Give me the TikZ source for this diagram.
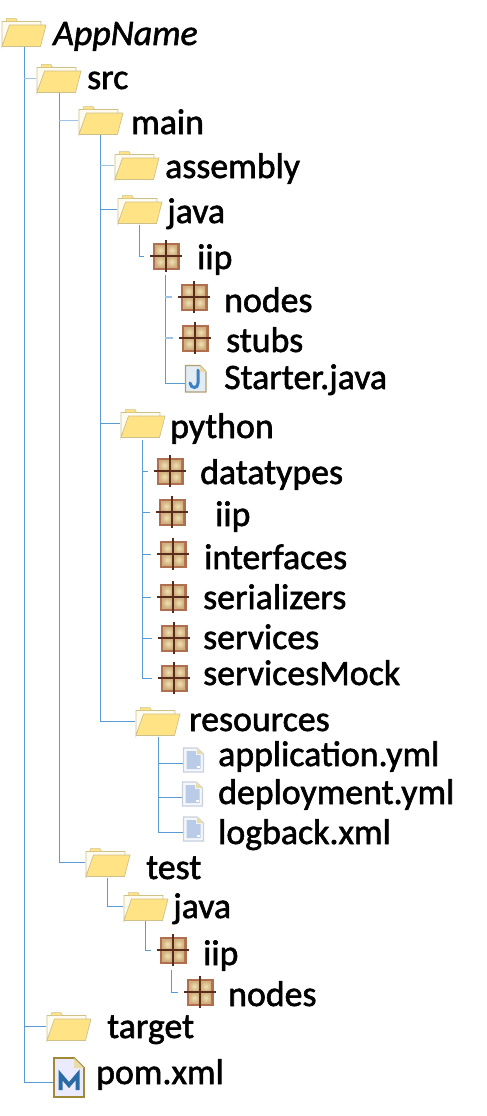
\documentclass[tikz,border=0pt]{standalone}
\usepackage{fontspec}
\setmainfont{Carlito}
\newfontfamily\lblfont[FakeBold=1.6]{Carlito}
\newfontfamily\lblit[FakeBold=1.6]{Carlito Italic}
\definecolor{treeblue}{HTML}{5B9BD5}
\definecolor{treelight}{HTML}{9DC3E6}
\definecolor{foldy}{HTML}{FFE384}
\definecolor{foldedge}{HTML}{CFC08A}
\definecolor{foldback}{HTML}{FFFCEF}
\definecolor{pkgedge}{HTML}{B0704F}
\definecolor{pkgin}{HTML}{F0E2B4}
\definecolor{pkgout}{HTML}{D0AE7E}
\definecolor{pkgcross}{HTML}{5A2C1C}
\definecolor{docpage}{HTML}{B9CBE6}
\definecolor{docedge}{HTML}{C8D0DE}
\definecolor{docfold}{HTML}{EADCA8}
\definecolor{jedge}{HTML}{B0A070}
\definecolor{jblue}{HTML}{3D7FBF}
\definecolor{medge}{HTML}{A08A3A}
\definecolor{mblue}{HTML}{2A6AA5}
\tikzset{
 x=1pt,y=-1pt,
 trunk/.style={treeblue,line width=1pt},
 hl/.style={treeblue,line width=1pt},
 hlight/.style={treelight,line width=1.5pt},
 lbl/.style={inner sep=0pt,anchor=base west,font=\fontsize{35.8}{38}\selectfont\lblfont},
 foldernode/.style={inner sep=0pt,outer sep=0pt,minimum width=45pt,minimum height=29pt,anchor=north west},
 pkgnode/.style={inner sep=0pt,outer sep=0pt,minimum width=44pt,minimum height=34pt,anchor=center},
 docnode/.style={inner sep=0pt,outer sep=3pt,minimum width=22pt,minimum height=26pt,anchor=north west},
}
\newcommand{\folderat}[3]{% name, x, y
 \node[foldernode] (#1) at (#2,#3) {};
 \begin{scope}[shift={(#2,#3)}]
  \fill[foldback,draw=foldedge,line width=.9pt] (1,28.5) -- (1,3.5) -- (40,3.5) -- (40,8) -- (9,8) -- cycle;
  \fill[foldy,draw=foldedge,line width=.5pt] (5,3.5) -- (5.5,.5) -- (15,.5) -- (16.5,3.5) -- cycle;
  \fill[foldy,draw=foldedge,line width=.7pt] (8.5,7) -- (45,7) -- (39.5,28.5) -- (1,28.5) -- cycle;
 \end{scope}}
\newcommand{\pkgat}[3]{% name, cx, cy
 \node[pkgnode] (#1) at (#2,#3) {};
 \begin{scope}[shift={(#2,#3)}]
  \fill[pkgedge] (-13.5,-13.5) rectangle (13.5,13.5);
  \foreach \qx/\qy in {-11/-11,0.5/-11,-11/0.5,0.5/0.5}{
   \shade[inner color=pkgin,outer color=pkgout] (\qx,\qy) rectangle ++(10.5,10.5);}
  \draw[pkgcross,line width=1.2pt] (-16,0) -- (16,0) (0,-16) -- (0,16);
 \end{scope}}
\newcommand{\docat}[3]{% name, x, y
 \node[docnode] (#1) at (#2,#3) {};
 \begin{scope}[shift={(#2,#3)}]
  \fill[white!85!docpage,draw=docedge,line width=1.2pt] (0.5,1) -- (14,1) -- (20.5,7) -- (20.5,25) -- (0.5,25) -- cycle;
  \fill[docfold] (14,.5) -- (20.5,7) -- (14,7) -- cycle;
  \fill[docpage] (3.5,4) -- (13,4) -- (13,8) -- (17.5,8) -- (17.5,22) -- (3.5,22) -- cycle;
  \fill[white] (13.5,18.5) rectangle (17,21);
 \end{scope}}
\begin{document}
\begin{tikzpicture}
\useasboundingbox (0,0) rectangle (487,1116);
% icons
\folderat{approot}{1}{18}
\folderat{srcdir}{36}{64}
\folderat{maindir}{78}{106}
\folderat{assemblydir}{114}{151}
\folderat{javadir}{117}{195}
\pkgat{iippkg}{166}{256}
\pkgat{nodespkg}{194}{297}
\pkgat{stubspkg}{195}{338}
% Starter.java
\node[inner sep=0pt,outer sep=4pt,minimum width=22pt,minimum height=28pt,anchor=north west] (starter) at (185,365) {};
\begin{scope}[shift={(185,365)}]
 \fill[white!85!jblue,draw=jedge,line width=1.4pt] (.5,.5) -- (15,.5) -- (21,7) -- (21,27) -- (.5,27) -- cycle;
 \fill[docfold] (15,.5) -- (21,7) -- (15,7) -- cycle;
 \draw[jblue,line width=3pt,line cap=round] (13,5) -- (13,18) .. controls (13,24) and (6,24) .. (5,18);
\end{scope}
\folderat{pythondir}{120}{409}
\pkgat{datatypespkg}{170}{471}
\pkgat{iipypkg}{172}{512}
\pkgat{interfacespkg}{173}{554}
\pkgat{serializerspkg}{173}{597}
\pkgat{servicespkg}{174}{638}
\pkgat{mockpkg}{174}{678}
\folderat{resourcesdir}{135}{707}
\docat{appyml}{183}{747}
\docat{depyml}{182}{781}
\docat{logxml}{183}{816}
\folderat{testdir}{85}{848}
\folderat{testjava}{123}{892}
\pkgat{testiip}{173}{950}
\pkgat{testnodes}{200}{992}
\folderat{targetdir}{46}{1012}
% pom.xml
\node[inner sep=0pt,outer sep=5pt,minimum width=32pt,minimum height=41pt,anchor=north west] (pom) at (53,1057) {};
\begin{scope}[shift={(53,1057)}]
 \fill[white!92!blue,draw=medge,line width=1.8pt] (1,1) -- (21,1) -- (31,11) -- (31,40) -- (1,40) -- cycle;
 \fill[docfold] (21,1) -- (31,11) -- (21,11) -- cycle;
 \draw[mblue,line width=4pt,line join=miter] (7.5,33) -- (7.5,18) -- (16,28) -- (24.5,18) -- (24.5,33);
\end{scope}
% trunks and branches
\coordinate (rootT) at (24,47);
\coordinate (srcT) at (59,93);
\coordinate (mainT) at (100,135);
\coordinate (javaT) at (139,225);
\coordinate (iipT) at (165,275);
\coordinate (pyT) at (142,440);
\coordinate (resT) at (158,737);
\coordinate (testT) at (107,878);
\coordinate (tjavaT) at (145,921);
\coordinate (tiipT) at (171,970);
\draw[trunk] (rootT) |- (pom.west);
\draw[hlight] (rootT |- srcdir.west) -- (srcdir.west);
\draw[hl] (rootT |- targetdir.west) -- (targetdir.west);
\draw[trunk] (srcT) |- (testdir.west);
\draw[hlight] (srcT |- maindir.west) -- (maindir.west);
\draw[trunk] (mainT) |- (resourcesdir.west);
\draw[hlight] (mainT |- assemblydir.west) -- (assemblydir.west);
\draw[hl] (mainT |- javadir.west) -- (javadir.west);
\draw[hl] (mainT |- pythondir.west) -- (pythondir.west);
\draw[trunk] (javaT) |- (iippkg.west);
\draw[trunk] (iipT) |- (starter.west);
\draw[hlight] (iipT |- nodespkg.west) -- (nodespkg.west);
\draw[hlight] (iipT |- stubspkg.west) -- (stubspkg.west);
\draw[trunk] (pyT) |- (mockpkg.west);
\foreach \k in {datatypespkg,iipypkg,interfacespkg,serializerspkg,servicespkg}{
 \draw[hl] (pyT |- \k.west) -- (\k.west);}
\draw[trunk] (resT) |- (logxml.west);
\draw[hl] (resT |- appyml.west) -- (appyml.west);
\draw[hl] (resT |- depyml.west) -- (depyml.west);
\draw[trunk] (testT) |- (testjava.west);
\draw[trunk] (tjavaT) |- (testiip.west);
\draw[trunk] (tiipT) |- (testnodes.west);
% labels
\node[lbl,font=\fontsize{35.8}{38}\selectfont\lblit] (t0) at (53,45) {AppName};
\node[lbl] (t1) at (87,89) {src};
\node[lbl] (t2) at (131,134) {main};
\node[lbl] (t3) at (165,178) {assembly};
\node[lbl] (t4) at (167,223) {java};
\node[lbl] (t5) at (197,269) {iip};
\node[lbl] (t6) at (224,312) {nodes};
\node[lbl] (t7) at (226,352) {stubs};
\node[lbl] (t8) at (224,389) {Starter.java};
\node[lbl] (t9) at (170,438) {python};
\node[lbl] (t10) at (200,484) {datatypes};
\node[lbl] (t11) at (215,526) {iip};
\node[lbl] (t12) at (204,569) {interfaces};
\node[lbl] (t13) at (203,609) {serializers};
\node[lbl] (t14) at (203,649) {services};
\node[lbl] (t15) at (203,685) {servicesMock};
\node[lbl] (t16) at (189,731) {resources};
\node[lbl] (t17) at (218,766) {application.yml};
\node[lbl] (t18) at (218,804) {deployment.yml};
\node[lbl] (t19) at (218,844) {logback.xml};
\node[lbl] (t20) at (146,879) {test};
\node[lbl] (t21) at (173,918) {java};
\node[lbl] (t22) at (203,965) {iip};
\node[lbl] (t23) at (228,1006) {nodes};
\node[lbl] (t24) at (107,1038) {target};
\node[lbl] (t25) at (96,1084) {pom.xml};
\end{tikzpicture}
\end{document}
